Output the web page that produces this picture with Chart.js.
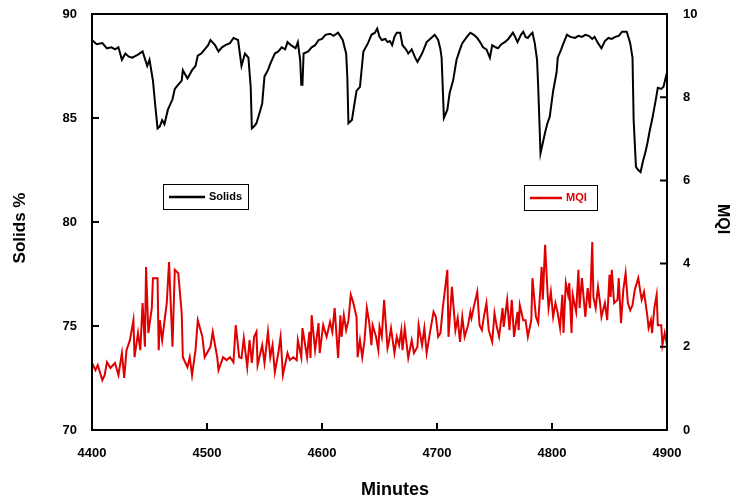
<!DOCTYPE html>
<html>
<head>
<meta charset="utf-8">
<script src="https://cdn.jsdelivr.net/npm/chart.js@4"></script>
<style>
  html, body { margin: 0; padding: 0; background: #fff; }
  canvas { display: block; }
</style>
</head>
<body>
<canvas id="grafico" width="730" height="500"></canvas>
<script>
// ── DADOS ──
const solidsMinutes = [
  4400, 4404, 4409, 4413, 4417, 4420, 4423, 4426, 4429, 4432,
  4435, 4440, 4444, 4448, 4450, 4453, 4455, 4457, 4459, 4461,
  4463, 4466, 4470, 4472, 4475, 4478, 4479, 4483, 4487, 4490,
  4492, 4495, 4498, 4501, 4503, 4507, 4510, 4513, 4516, 4520,
  4523, 4527, 4530, 4533, 4536, 4538, 4539, 4541, 4543, 4546,
  4548, 4550, 4553, 4555, 4559, 4562, 4565, 4568, 4570, 4573,
  4577, 4579, 4581, 4582, 4583, 4584, 4588, 4591, 4594, 4597,
  4600, 4603, 4607, 4610, 4614, 4618, 4621, 4622, 4623, 4626,
  4628, 4630, 4633, 4636, 4640, 4643, 4646, 4648, 4650, 4652,
  4655, 4657, 4659, 4661, 4663, 4665, 4668, 4670, 4673, 4675,
  4678, 4681, 4683, 4685, 4687, 4691, 4694, 4698, 4701, 4703,
  4704, 4706, 4709, 4711, 4714, 4717, 4720, 4722, 4726, 4729,
  4732, 4735, 4738, 4740, 4743, 4746, 4748, 4751, 4753, 4756,
  4759, 4762, 4766, 4768, 4770, 4773, 4775, 4777, 4779, 4781,
  4783, 4785, 4787, 4788, 4790, 4792, 4794, 4796, 4798, 4801,
  4803, 4804, 4805, 4808, 4810, 4813, 4816, 4820, 4823, 4826,
  4829, 4832, 4835, 4837, 4840, 4843, 4846, 4849, 4852, 4855,
  4858, 4861, 4865, 4868, 4870, 4871, 4873, 4875, 4877, 4879,
  4881, 4883, 4885, 4887, 4890, 4892, 4895, 4897, 4900
];
const solidsPct = [
  88.75, 88.55, 88.6, 88.35, 88.4, 88.3, 88.4, 87.8, 88.1, 87.95,
  87.9, 88.05, 88.2, 87.5, 87.8, 86.8, 85.6, 84.5, 84.6, 84.9,
  84.7, 85.4, 85.9, 86.4, 86.6, 86.8, 87.3, 86.9, 87.3, 87.5,
  88.0, 88.1, 88.3, 88.5, 88.75, 88.5, 88.2, 88.4, 88.5, 88.6,
  88.85, 88.75, 87.5, 88.1, 87.9, 86.5, 84.5, 84.6, 84.75, 85.3,
  85.7, 87.0, 87.3, 87.6, 88.1, 88.2, 88.4, 88.3, 88.65, 88.5,
  88.35, 88.65, 87.8, 86.6, 86.6, 88.1, 88.2, 88.4, 88.5, 88.75,
  88.8, 89.0, 89.05, 88.95, 89.1, 88.75, 88.1, 87.0, 84.75, 84.9,
  85.6, 86.3, 86.5, 88.2, 88.6, 89.0, 89.1, 89.3, 88.9, 88.75,
  88.8, 88.65, 88.7, 88.5, 88.9, 89.1, 89.1, 88.5, 88.3, 88.1,
  88.3, 87.9, 87.7, 87.9, 88.1, 88.65, 88.8, 89.0, 88.75, 88.3,
  87.9, 85.0, 85.4, 86.2, 86.8, 87.8, 88.3, 88.6, 88.9, 89.1,
  89.0, 88.85, 88.6, 88.4, 88.3, 87.9, 88.5, 88.4, 88.35, 88.55,
  88.65, 88.8, 89.1, 88.9, 88.65, 89.0, 89.15, 88.9, 88.85, 89.0,
  89.1, 88.6, 87.8, 86.5, 83.3, 83.8, 84.3, 84.75, 85.05, 86.3,
  86.9, 87.2, 87.9, 88.3, 88.6, 89.0, 88.9, 88.85, 88.95, 88.9,
  89.0, 88.95, 88.8, 88.9, 88.6, 88.35, 88.7, 88.85, 88.8, 88.9,
  88.95, 89.15, 89.15, 88.6, 87.9, 84.9, 82.65, 82.5, 82.4, 82.9,
  83.3, 83.8, 84.4, 84.9, 85.8, 86.45, 86.4, 86.5, 87.2
];

const mqiMinutes = [
  4400, 4403, 4405, 4409, 4411, 4413, 4416, 4420, 4423, 4426,
  4428, 4430, 4433, 4436, 4437, 4440, 4442, 4444, 4446, 4447,
  4449, 4452, 4453, 4457, 4458, 4459, 4461, 4465, 4467, 4470,
  4472, 4475, 4478, 4479, 4483, 4485, 4487, 4490, 4492, 4496,
  4498, 4503, 4505, 4509, 4510, 4514, 4517, 4520, 4523, 4525,
  4528, 4530, 4532, 4535, 4537, 4539, 4541, 4543, 4544, 4548,
  4550, 4553, 4555, 4557, 4559, 4562, 4564, 4566, 4570, 4572,
  4575, 4578, 4579, 4582, 4583, 4587, 4589, 4590, 4591, 4594,
  4597, 4598, 4601, 4604, 4607, 4609, 4611, 4614, 4616, 4617,
  4619, 4621, 4623, 4625, 4627, 4630, 4631, 4633, 4635, 4637,
  4639, 4641, 4643, 4644, 4647, 4649, 4650, 4652, 4654, 4657,
  4658, 4660, 4663, 4665, 4667, 4669, 4670, 4672, 4675, 4678,
  4680, 4683, 4684, 4687, 4689, 4691, 4694, 4697, 4699, 4701,
  4703, 4705, 4709, 4710, 4713, 4716, 4718, 4720, 4722, 4724,
  4727, 4729, 4730, 4732, 4735, 4737, 4739, 4741, 4743, 4745,
  4748, 4750, 4752, 4754, 4757, 4758, 4761, 4763, 4765, 4767,
  4770, 4771, 4772, 4775, 4777, 4779, 4782, 4783, 4786, 4788,
  4790, 4791, 4792, 4794, 4796, 4797, 4799, 4801, 4803, 4805,
  4807, 4809, 4810, 4812, 4814, 4815, 4817, 4818, 4821, 4823,
  4824, 4826, 4829, 4831, 4833, 4835, 4836, 4838, 4840, 4842,
  4843, 4846, 4848, 4850, 4851, 4852, 4854, 4857, 4858, 4860,
  4862, 4864, 4866, 4868, 4870, 4872, 4875, 4877, 4878, 4880,
  4883, 4884, 4886, 4887, 4889, 4891, 4892, 4895, 4896, 4898, 4900
];
const mqiValues = [
  1.61, 1.44, 1.56, 1.2, 1.32, 1.63, 1.49, 1.61, 1.32, 1.85,
  1.25, 1.92, 2.16, 2.64, 1.75, 2.33, 1.92, 3.05, 2.0, 3.92,
  2.33, 2.93, 3.65, 3.65, 1.92, 2.64, 2.16, 3.05, 4.04, 2.0,
  3.85, 3.77, 2.81, 1.75, 1.51, 1.75, 1.32, 1.92, 2.64, 2.24,
  1.75, 2.0, 2.36, 1.73, 1.44, 1.75, 1.68, 1.75, 1.63, 2.52,
  1.75, 1.73, 2.21, 1.51, 2.16, 1.61, 2.24, 2.36, 1.56, 2.04,
  1.61, 2.36, 1.75, 2.04, 1.39, 1.85, 2.24, 1.32, 1.85, 1.68,
  1.75, 1.68, 2.16, 1.75, 2.45, 1.75, 2.36, 1.73, 2.76, 1.92,
  2.57, 1.85, 2.52, 2.24, 2.6, 2.36, 2.93, 1.73, 2.76, 2.24,
  2.76, 2.4, 2.64, 3.25, 3.08, 2.72, 1.75, 2.16, 1.75, 2.16,
  2.93, 2.6, 2.04, 2.52, 2.24, 1.92, 2.48, 2.24, 3.13, 1.97,
  2.09, 2.45, 1.85, 2.24, 2.04, 2.4, 1.92, 2.45, 1.73, 2.16,
  1.85, 2.0, 2.52, 2.04, 2.45, 1.85, 2.36, 2.84, 2.72, 2.24,
  2.33, 2.93, 3.85, 2.24, 3.44, 2.4, 2.69, 2.12, 2.72, 2.24,
  2.52, 2.84, 2.69, 2.96, 3.32, 2.52, 2.4, 2.76, 3.05, 2.4,
  2.12, 2.81, 2.48, 2.24, 2.93, 2.48, 3.13, 2.4, 3.13, 2.24,
  2.84, 2.4, 3.0, 2.64, 2.64, 2.24, 2.64, 3.65, 2.72, 2.57,
  3.44, 3.92, 3.13, 4.45, 3.37, 2.93, 3.32, 2.72, 3.05, 2.81,
  2.45, 3.25, 2.33, 3.53, 3.25, 3.53, 2.33, 3.25, 2.84, 3.85,
  2.93, 3.65, 2.72, 3.41, 2.93, 4.52, 3.2, 2.93, 3.44, 3.0,
  2.72, 3.05, 2.64, 3.73, 3.2, 3.85, 3.05, 3.13, 3.65, 2.57,
  3.37, 3.77, 3.05, 2.88, 3.0, 3.37, 3.65, 3.29, 3.13, 3.32,
  2.72, 2.45, 2.64, 2.33, 2.93, 3.25, 2.52, 2.52, 2.04, 2.33, 2.04
];

// Ticks dos eixos
const minutesTicks = [4400, 4500, 4600, 4700, 4800, 4900];
const solidsTicks = [70, 75, 80, 85, 90];
const mqiTicks = [0, 2, 4, 6, 8, 10];

const FAMILIA = '"Liberation Sans", Arial, Helvetica, sans-serif';
const fonteTick = { family: FAMILIA, weight: 'bold', size: 13 };
const VERMELHO = '#e00000';

// Moldura completa da área do gráfico + marcas de tick voltadas para dentro
const molduraPlugin = {
  id: 'moldura',
  afterDatasetsDraw(chart) {
    const { ctx, chartArea: a, scales } = chart;
    ctx.save();
    ctx.strokeStyle = '#000';
    ctx.lineWidth = 2;
    ctx.strokeRect(a.left, a.top, a.right - a.left, a.bottom - a.top);
    ctx.beginPath();
    minutesTicks.forEach(v => {
      const p = scales.x.getPixelForValue(v);
      ctx.moveTo(p, a.bottom);
      ctx.lineTo(p, a.bottom - 7);
    });
    solidsTicks.forEach(v => {
      const p = scales.y.getPixelForValue(v);
      ctx.moveTo(a.left, p);
      ctx.lineTo(a.left + 7, p);
    });
    mqiTicks.forEach(v => {
      const p = scales.y1.getPixelForValue(v);
      ctx.moveTo(a.right, p);
      ctx.lineTo(a.right - 7, p);
    });
    ctx.stroke();
    ctx.restore();
  }
};

// Títulos dos eixos (posições ajustadas à referência)
const titulosPlugin = {
  id: 'titulos',
  afterDraw(chart) {
    const { ctx } = chart;
    const escrever = (texto, x, y, rot, tamanho) => {
      ctx.save();
      ctx.translate(x, y);
      ctx.rotate(rot);
      ctx.fillStyle = '#000';
      ctx.font = 'bold ' + tamanho + 'px ' + FAMILIA;
      ctx.textAlign = 'center';
      ctx.textBaseline = 'middle';
      ctx.fillText(texto, 0, 0);
      ctx.restore();
    };
    escrever('Minutes', 395, 490, 0, 18);
    escrever('Solids %', 20, 228, -Math.PI / 2, 17);
    escrever('MQI', 722, 219, Math.PI / 2, 16);
  }
};

// Duas caixas de legenda separadas (uma por série)
const legendaPlugin = {
  id: 'legendaCaixas',
  afterDraw(chart) {
    const { ctx } = chart;
    const caixas = [
      { x: 163, y: 184, w: 85, h: 25, texto: 'Solids', cor: '#000', corTexto: '#000', linha: 36 },
      { x: 524, y: 185, w: 73, h: 25, texto: 'MQI', cor: VERMELHO, corTexto: VERMELHO, linha: 32 }
    ];
    ctx.save();
    caixas.forEach(c => {
      ctx.fillStyle = '#fff';
      ctx.fillRect(c.x, c.y, c.w, c.h);
      ctx.strokeStyle = '#000';
      ctx.lineWidth = 1;
      ctx.strokeRect(c.x + 0.5, c.y + 0.5, c.w, c.h);
      const meio = c.y + 13;
      ctx.strokeStyle = c.cor;
      ctx.lineWidth = 2.5;
      ctx.beginPath();
      ctx.moveTo(c.x + 6, meio);
      ctx.lineTo(c.x + 6 + c.linha, meio);
      ctx.stroke();
      ctx.fillStyle = c.corTexto;
      ctx.font = 'bold 11px ' + FAMILIA;
      ctx.textBaseline = 'middle';
      ctx.fillText(c.texto, c.x + 10 + c.linha, meio);
    });
    ctx.restore();
  }
};

// Força o tamanho dos eixos e zera o recuo extra que o Chart.js cria para os rótulos
const fixarEixo = (largura, altura) => s => {
  if (largura !== null) s.width = largura;
  if (altura !== null) s.height = altura;
  s.paddingTop = 0;
  s.paddingBottom = 0;
  s.paddingLeft = 0;
  s.paddingRight = 0;
};

const ctx = document.getElementById('grafico');

new Chart(ctx, {
  type: 'line',
  data: {
    datasets: [
      {
        label: 'Solids',
        data: solidsMinutes.map((m, i) => ({ x: m, y: solidsPct[i] })),
        borderColor: '#000',
        borderWidth: 2,
        pointRadius: 0,
        tension: 0,
        yAxisID: 'y'
      },
      {
        label: 'MQI',
        data: mqiMinutes.map((m, i) => ({ x: m, y: mqiValues[i] })),
        borderColor: VERMELHO,
        borderWidth: 2,
        pointRadius: 0,
        tension: 0,
        yAxisID: 'y1'
      }
    ]
  },
  options: {
    responsive: false,
    animation: false,
    devicePixelRatio: 1,
    layout: { padding: { top: 14, left: 0, right: 0, bottom: 0 } },
    plugins: {
      legend: { display: false },
      tooltip: { enabled: false }
    },
    scales: {
      x: {
        type: 'linear',
        min: 4400,
        max: 4900,
        grid: { display: false, drawTicks: false },
        border: { display: false },
        afterBuildTicks: s => { s.ticks = minutesTicks.map(v => ({ value: v })); },
        ticks: { color: '#000', font: fonteTick, padding: 16, maxRotation: 0, callback: v => String(v) },
        afterFit: fixarEixo(null, 70)
      },
      y: {
        position: 'left',
        min: 70,
        max: 90,
        grid: { display: false, drawTicks: false },
        border: { display: false },
        afterBuildTicks: s => { s.ticks = solidsTicks.map(v => ({ value: v })); },
        ticks: { color: '#000', font: fonteTick, padding: 15, callback: v => String(v) },
        afterFit: fixarEixo(92, null)
      },
      y1: {
        position: 'right',
        min: 0,
        max: 10,
        grid: { display: false, drawTicks: false },
        border: { display: false },
        afterBuildTicks: s => { s.ticks = mqiTicks.map(v => ({ value: v })); },
        ticks: { color: '#000', font: fonteTick, padding: 16, callback: v => String(v) },
        afterFit: fixarEixo(63, null)
      }
    }
  },
  plugins: [molduraPlugin, legendaPlugin, titulosPlugin]
});
</script>
</body>
</html>
